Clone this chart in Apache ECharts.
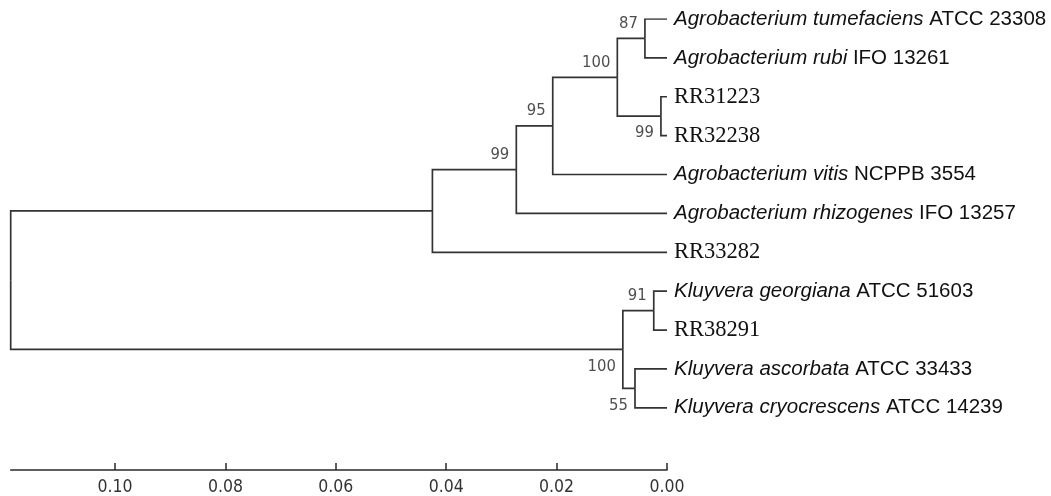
<!DOCTYPE html>
<html><head><meta charset="utf-8">
<script src="https://cdn.jsdelivr.net/npm/echarts@6/dist/echarts.min.js"></script>
<style>html,body{margin:0;padding:0;background:#fff}#c{width:1051px;height:496px}</style>
</head><body><div id="c"></div>
<script>
// ---- data ----
const leafSpecies = ['Agrobacterium tumefaciens', 'Agrobacterium rubi', '', '', 'Agrobacterium vitis',
  'Agrobacterium rhizogenes', '', 'Kluyvera georgiana', '', 'Kluyvera ascorbata', 'Kluyvera cryocrescens'];
const leafStrains = ['ATCC 23308', 'IFO 13261', 'RR31223', 'RR32238', 'NCPPB 3554',
  'IFO 13257', 'RR33282', 'ATCC 51603', 'RR38291', 'ATCC 33433', 'ATCC 14239'];
const nodeNames = ['n87', 'nRR', 'nA100', 'n95', 'n99', 'nAgro', 'n91', 'n55', 'nK100', 'root'];
const nodeHeights = [0.0040, 0.0011, 0.0090, 0.0207, 0.0273, 0.0425, 0.0024, 0.0058, 0.0080, 0.1189];
const nodeSupport = [87, 99, 100, 95, 99, null, 91, 55, 100, null];
const nodeChildren = [['L0', 'L1'], ['L2', 'L3'], ['n87', 'nRR'], ['nA100', 'L4'], ['n95', 'L5'],
  ['n99', 'L6'], ['L7', 'L8'], ['L9', 'L10'], ['n91', 'n55'], ['nAgro', 'nK100']];
const tickValues = [0, 0.02, 0.04, 0.06, 0.08, 0.10];
const supportBelow = ['nRR', 'n55', 'nK100'];

// ---- layout of tree (topology -> coordinates in data space) ----
const pos = {};
leafStrains.forEach((s, i) => { pos['L' + i] = { h: 0, y: i }; });
nodeNames.forEach((n, i) => {
  const ch = nodeChildren[i].map(c => pos[c]);
  pos[n] = { h: nodeHeights[i], y: ch.reduce((a, c) => a + c.y, 0) / ch.length };
});
const branches = [];
nodeNames.forEach((n, i) => {
  const p = pos[n];
  nodeChildren[i].forEach(c => {
    const q = pos[c];
    branches.push({ coords: [[p.h, p.y], [p.h, q.y], [q.h, q.y]] });
  });
});
const leafData = leafStrains.map((s, i) => [0, i]);
const supportData = [];
nodeNames.forEach((n, i) => {
  if (nodeSupport[i] == null) return;
  const below = supportBelow.includes(n);
  supportData.push({
    value: [pos[n].h, pos[n].y],
    label: { formatter: String(nodeSupport[i]), offset: [-7, below ? 17 : -15] }
  });
});

const SANS = '"Liberation Sans", Arial, sans-serif';
const NARROW = '"DejaVu Sans Condensed", "Liberation Sans", Arial, sans-serif';
const SERIF = '"Liberation Serif", "Times New Roman", serif';
const TXT = '#111111';

const chart = echarts.init(document.getElementById('c'), null, { renderer: 'canvas' });
chart.setOption({
  animation: false,
  backgroundColor: '#ffffff',
  grid: { left: 10.7, right: 384, top: 19, bottom: 25.5 },
  xAxis: {
    type: 'value', inverse: true, min: 0, max: 0.1189, position: 'bottom',
    axisLine: { onZero: false, lineStyle: { color: '#2a2a2a', width: 1.5 } },
    axisTick: { show: true, inside: true, length: 7, customValues: tickValues, lineStyle: { color: '#2a2a2a', width: 1.5 } },
    axisLabel: { customValues: tickValues, formatter: v => Number(v).toFixed(2), fontFamily: NARROW, fontSize: 17.5, color: '#333', margin: 8 },
    splitLine: { show: false }
  },
  yAxis: { type: 'value', inverse: true, min: 0, max: 11.6, show: false },
  series: [
    {
      type: 'lines', coordinateSystem: 'cartesian2d', polyline: true, silent: true,
      lineStyle: { color: '#333333', width: 1.7, opacity: 1 },
      data: branches
    },
    {
      type: 'scatter', symbolSize: 0, silent: true, data: leafData,
      itemStyle: { opacity: 1 },
      label: {
        show: true, position: 'right', distance: 7, color: TXT, opacity: 1,
        formatter: p => {
          const sp = leafSpecies[p.dataIndex], st = leafStrains[p.dataIndex];
          return sp ? '{it|' + sp + '}{n| ' + st + '}' : '{rr|' + st + '}';
        },
        rich: {
          it: { fontFamily: SANS, fontStyle: 'italic', fontSize: 20.5, color: TXT },
          n: { fontFamily: SANS, fontSize: 20.5, color: TXT },
          rr: { fontFamily: SERIF, fontSize: 22.5, color: TXT }
        }
      }
    },
    {
      type: 'scatter', symbolSize: 0, silent: true, data: supportData,
      label: { show: true, position: 'inside', align: 'right', verticalAlign: 'middle', fontFamily: NARROW, fontSize: 16.5, color: '#222' }
    }
  ]
});
</script></body></html>
